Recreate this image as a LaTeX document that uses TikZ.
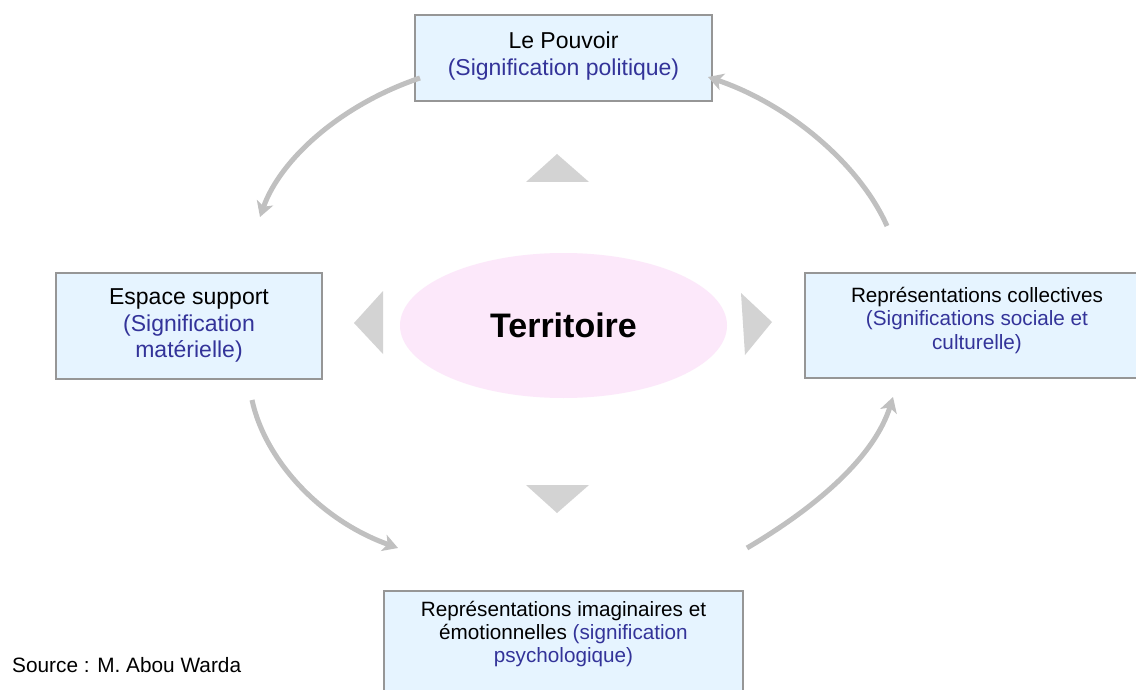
\documentclass[tikz,border=0pt]{standalone}
\usepackage{fontspec}
\setmainfont{Liberation Sans}
\usetikzlibrary{arrows.meta,shapes.geometric}
\definecolor{boxfill}{RGB}{230,244,255}
\definecolor{boxdraw}{RGB}{150,150,150}
\definecolor{txtblue}{RGB}{51,51,153}
\definecolor{elfill}{RGB}{252,232,250}
\definecolor{trigray}{RGB}{211,211,211}
\definecolor{arrgray}{RGB}{192,192,192}
\tikzset{
  boxnode/.style={draw=boxdraw, line width=1.5pt, fill=boxfill, rectangle, inner sep=0pt},
  bigtxt/.style={align=center, inner sep=0pt, font=\fontsize{23}{26.8}\selectfont},
  smalltxt/.style={align=center, inner sep=0pt, font=\fontsize{20.7}{23.3}\selectfont},
  cyclearrow/.style={draw=arrgray, line width=5pt, -{Stealth[length=15pt,width=17pt,inset=4pt]}},
  tri/.style={fill=trigray}
}
\begin{document}
\begin{tikzpicture}[x=1pt,y=-1pt]
\clip (0,0) rectangle (1136,690);
\fill[white] (0,0) rectangle (1136,690);

% central ellipse
\node[ellipse, fill=elfill, minimum width=327pt, minimum height=145pt, inner sep=0pt] (terr) at (563.5,325.5) {};
\node[inner sep=0pt, font=\fontsize{34}{40}\selectfont\bfseries] (terrT) at (563.5,325) {Territoire};

% triangles
\fill[tri] (557,154) -- (589,182) -- (526,182) -- cycle;
\fill[tri] (354,323) -- (383,291) -- (383,354) -- cycle;
\fill[tri] (772,322) -- (741,293) -- (745,355) -- cycle;
\fill[tri] (557,513) -- (526,485) -- (589,485) -- cycle;

% boxes
\node[boxnode, minimum width=297pt, minimum height=86pt] (pouvoir) at (563.5,58) {};
\node[bigtxt] (pouvoirT) at (563.5,55.7) {Le Pouvoir\\\color{txtblue}(Signification politique)};

\node[boxnode, minimum width=266pt, minimum height=106pt] (espace) at (189,326) {};
\node[bigtxt] (espaceT) at (189,325.6) {Espace support\\\color{txtblue}(Signification\\\color{txtblue}matérielle)};

\node[boxnode, minimum width=344pt, minimum height=105pt] (collect) at (977,325.5) {};
\node[smalltxt] (collectT) at (977,320.5) {Représentations collectives\\\color{txtblue}(Significations sociale et\\\color{txtblue}culturelle)};

\node[boxnode, minimum width=359pt, minimum height=129pt] (imag) at (563.5,655.5) {};
\node[smalltxt] (imagT) at (563.5,634) {Représentations imaginaires et\\émotionnelles {\color{txtblue}(signification}\\\color{txtblue}psychologique)};

% source
\node[anchor=base west, inner sep=0pt, font=\fontsize{20.8}{24}\selectfont] (source) at (12,672) {Source : M. Abou Warda};

% arrow end points
\coordinate (a1s) at (420,78);
\coordinate (a1e) at (260,217);
\coordinate (a2s) at (252,400);
\coordinate (a2e) at (398,548);
\coordinate (a3s) at (747,548);
\coordinate (a3e) at (893,397);
\coordinate (a4s) at (887,226);
\coordinate (a4e) at (708,77);

\draw[cyclearrow] (a1s) .. controls (340,105) and (280,160) .. (a1e);
\draw[cyclearrow] (a2s) .. controls (265,460) and (320,520) .. (a2e);
\draw[cyclearrow] (a3s) .. controls (820,505) and (875,455) .. (a3e);
\draw[cyclearrow] (a4s) .. controls (860,165) and (790,105) .. (a4e);
\end{tikzpicture}
\end{document}
